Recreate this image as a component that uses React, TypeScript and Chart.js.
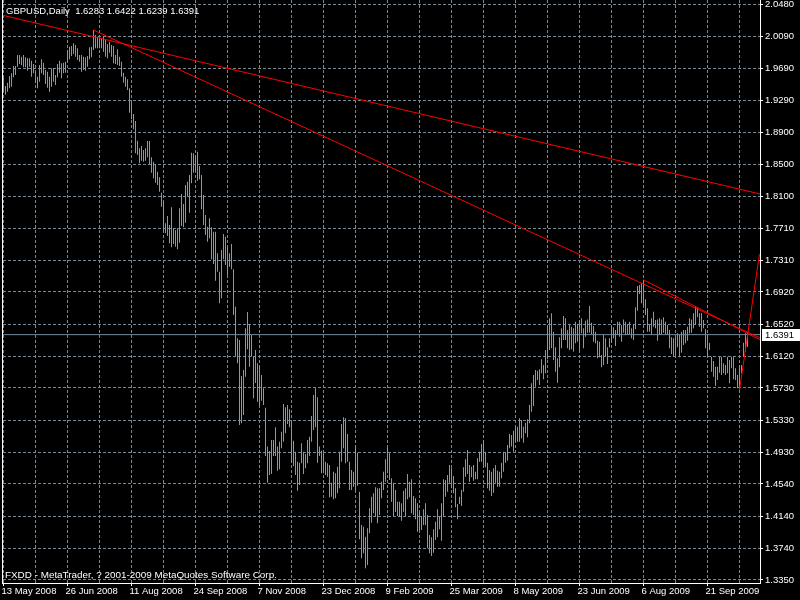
import React, { useEffect, useRef } from 'react';
import { Chart, registerables } from 'chart.js';

Chart.register(...registerables);

// Daily GBPUSD bars, index 0 = 13 May 2008 (weekdays)
const highs = [
  1.9580, 1.9473, 1.9514, 1.9596, 1.9630, 1.9720, 1.9720, 1.9856, 1.9856, 1.9835,
  1.9856, 1.9828, 1.9815, 1.9815, 1.9786, 1.9745, 1.9649, 1.9588, 1.9732, 1.9803,
  1.9761, 1.9670, 1.9649, 1.9588, 1.9691, 1.9691, 1.9609, 1.9745, 1.9786, 1.9753,
  1.9761, 1.9773, 1.9918, 1.9959, 1.9968, 2.0001, 1.9980, 1.9939, 1.9856, 1.9856,
  1.9835, 1.9828, 1.9844, 1.9952, 1.9959, 2.0166, 2.0104, 2.0083, 2.0063, 2.0063,
  2.0083, 2.0042, 1.9993, 2.0021, 1.9980, 1.9968, 1.9856, 1.9927, 1.9835, 1.9773,
  1.9637, 1.9588, 1.9555, 1.9444, 1.9265, 1.9125, 1.9039, 1.8794, 1.8700, 1.8729,
  1.8679, 1.8700, 1.8791, 1.8791, 1.8589, 1.8534, 1.8505, 1.8410, 1.8340, 1.8150,
  1.8051, 1.7771, 1.7861, 1.7750, 1.7969, 1.7709, 1.7688, 1.7709, 1.7957, 1.8134,
  1.8010, 1.8245, 1.8286, 1.8369, 1.8646, 1.8638, 1.8605, 1.8658, 1.8481, 1.8369,
  1.8121, 1.7873, 1.7729, 1.7833, 1.7721, 1.7667, 1.7667, 1.7399, 1.7171, 1.7440,
  1.7638, 1.7605, 1.7481, 1.7399, 1.7514, 1.7201, 1.6737, 1.6345, 1.6324, 1.5878,
  1.5952, 1.6469, 1.6671, 1.6522, 1.6386, 1.6117, 1.6200, 1.6036, 1.6002, 1.5890,
  1.5726, 1.5485, 1.5003, 1.4949, 1.5085, 1.5085, 1.5243, 1.5003, 1.5064, 1.5188,
  1.5531, 1.5490, 1.5519, 1.5466, 1.5333, 1.5076, 1.4940, 1.4816, 1.4804, 1.5044,
  1.4940, 1.4911, 1.5085, 1.5126, 1.5383, 1.5643, 1.5726, 1.5614, 1.5003, 1.4952,
  1.4928, 1.4816, 1.4796, 1.4775, 1.4556, 1.4692, 1.4672, 1.4754, 1.4940, 1.5283,
  1.5366, 1.5354, 1.5160, 1.4816, 1.4713, 1.4692, 1.5003, 1.4928, 1.4444, 1.4032,
  1.4011, 1.3887, 1.3991, 1.4238, 1.4382, 1.4424, 1.4499, 1.4486, 1.4486, 1.4568,
  1.4692, 1.4846, 1.4995, 1.4920, 1.4610, 1.4556, 1.4465, 1.4320, 1.4320, 1.4300,
  1.4457, 1.4486, 1.4664, 1.4568, 1.4598, 1.4391, 1.4362, 1.4300, 1.4196, 1.4143,
  1.4226, 1.4300, 1.4155, 1.3908, 1.3879, 1.3978, 1.4073, 1.4226, 1.4134, 1.4300,
  1.4598, 1.4589, 1.4651, 1.4775, 1.4734, 1.4639, 1.4486, 1.4292, 1.4382, 1.4465,
  1.4747, 1.4846, 1.4961, 1.4775, 1.4754, 1.4775, 1.4692, 1.4858, 1.4940, 1.5035,
  1.5085, 1.4940, 1.4804, 1.4713, 1.4692, 1.4734, 1.4775, 1.4704, 1.4692, 1.4804,
  1.4940, 1.4928, 1.5023, 1.5160, 1.5147, 1.5200, 1.5243, 1.5250, 1.5354, 1.5333,
  1.5250, 1.5300, 1.5342, 1.5519, 1.5788, 1.5890, 1.5952, 1.5944, 1.5961, 1.6085,
  1.6014, 1.6200, 1.6498, 1.6593, 1.6655, 1.6427, 1.6234, 1.6098, 1.6358, 1.6469,
  1.6622, 1.6593, 1.6448, 1.6510, 1.6489, 1.6469, 1.6551, 1.6522, 1.6572, 1.6593,
  1.6469, 1.6563, 1.6580, 1.6746, 1.6539, 1.6498, 1.6427, 1.6316, 1.6303, 1.6138,
  1.6386, 1.6345, 1.6234, 1.6345, 1.6498, 1.6481, 1.6448, 1.6551, 1.6551, 1.6510,
  1.6580, 1.6551, 1.6522, 1.6551, 1.6469, 1.6522, 1.6730, 1.6994, 1.7006, 1.7027,
  1.7047, 1.6829, 1.6717, 1.6522, 1.6593, 1.6675, 1.6572, 1.6580, 1.6593, 1.6580,
  1.6605, 1.6551, 1.6510, 1.6448, 1.6358, 1.6345, 1.6365, 1.6407, 1.6386, 1.6427,
  1.6448, 1.6448, 1.6489, 1.6593, 1.6580, 1.6655, 1.6737, 1.6717, 1.6655, 1.6655,
  1.6572, 1.6457, 1.6399, 1.6291, 1.6117, 1.6064, 1.5993, 1.5993, 1.6117, 1.6117,
  1.6036, 1.6014, 1.6117, 1.6076, 1.6117, 1.6110, 1.5973, 1.5890, 1.6014, 1.6014,
  1.6291, 1.6407, 1.6422,
];

const lows = [
  1.9414, 1.9365, 1.9402, 1.9444, 1.9464, 1.9580, 1.9609, 1.9711, 1.9745, 1.9732,
  1.9704, 1.9704, 1.9662, 1.9711, 1.9588, 1.9630, 1.9505, 1.9444, 1.9526, 1.9630,
  1.9609, 1.9497, 1.9452, 1.9402, 1.9464, 1.9526, 1.9485, 1.9580, 1.9637, 1.9568,
  1.9630, 1.9637, 1.9761, 1.9803, 1.9844, 1.9869, 1.9835, 1.9794, 1.9773, 1.9649,
  1.9670, 1.9662, 1.9711, 1.9803, 1.9828, 1.9918, 1.9939, 1.9939, 1.9939, 1.9939,
  1.9897, 1.9835, 1.9815, 1.9885, 1.9835, 1.9753, 1.9745, 1.9732, 1.9720, 1.9588,
  1.9513, 1.9464, 1.9423, 1.9141, 1.9060, 1.8936, 1.8638, 1.8617, 1.8514, 1.8546,
  1.8534, 1.8546, 1.8589, 1.8505, 1.8398, 1.8328, 1.8274, 1.8245, 1.8162, 1.7976,
  1.7667, 1.7647, 1.7613, 1.7523, 1.7473, 1.7514, 1.7481, 1.7448, 1.7530, 1.7737,
  1.7721, 1.7778, 1.8100, 1.7902, 1.8266, 1.8398, 1.8423, 1.8298, 1.8316, 1.7944,
  1.7750, 1.7626, 1.7543, 1.7585, 1.7325, 1.7266, 1.7059, 1.7171, 1.6779, 1.6841,
  1.7325, 1.7254, 1.7130, 1.7233, 1.7201, 1.6634, 1.6126, 1.6036, 1.5271, 1.5292,
  1.5395, 1.5870, 1.6209, 1.5993, 1.6117, 1.5602, 1.5791, 1.5560, 1.5513, 1.5572,
  1.5519, 1.4887, 1.4556, 1.4651, 1.4664, 1.4887, 1.4887, 1.4704, 1.4722, 1.4982,
  1.5064, 1.5168, 1.5283, 1.5243, 1.4804, 1.4763, 1.4651, 1.4457, 1.4527, 1.4796,
  1.4664, 1.4734, 1.4796, 1.4887, 1.5064, 1.5209, 1.5243, 1.4804, 1.4887, 1.4672,
  1.4672, 1.4651, 1.4630, 1.4375, 1.4382, 1.4350, 1.4363, 1.4424, 1.4486, 1.4816,
  1.4982, 1.4796, 1.4816, 1.4465, 1.4465, 1.4506, 1.4457, 1.4519, 1.3854, 1.3619,
  1.3681, 1.3495, 1.3536, 1.3929, 1.4060, 1.4176, 1.4143, 1.4053, 1.4155, 1.4362,
  1.4465, 1.4568, 1.4672, 1.4589, 1.4320, 1.4143, 1.4192, 1.4143, 1.4134, 1.4085,
  1.4196, 1.4143, 1.4350, 1.4375, 1.4176, 1.4155, 1.4102, 1.3948, 1.3970, 1.3970,
  1.4032, 1.4032, 1.3743, 1.3681, 1.3648, 1.3688, 1.3846, 1.3879, 1.3978, 1.3837,
  1.4143, 1.4382, 1.4444, 1.4556, 1.4486, 1.4424, 1.4251, 1.4102, 1.4292, 1.4267,
  1.4444, 1.4630, 1.4664, 1.4568, 1.4622, 1.4580, 1.4598, 1.4598, 1.4816, 1.4816,
  1.4754, 1.4747, 1.4486, 1.4457, 1.4391, 1.4432, 1.4556, 1.4506, 1.4506, 1.4610,
  1.4692, 1.4804, 1.4829, 1.4982, 1.5003, 1.4940, 1.5064, 1.5064, 1.5064, 1.5106,
  1.5052, 1.5168, 1.5118, 1.5292, 1.5436, 1.5507, 1.5746, 1.5829, 1.5767, 1.5911,
  1.5837, 1.5911, 1.6085, 1.6200, 1.6221, 1.6076, 1.5932, 1.5795, 1.5986, 1.6221,
  1.6324, 1.6324, 1.6221, 1.6200, 1.6209, 1.6179, 1.6283, 1.6303, 1.6179, 1.6407,
  1.6221, 1.6365, 1.6415, 1.6415, 1.6399, 1.6303, 1.6283, 1.6098, 1.6110, 1.5986,
  1.6014, 1.6126, 1.6027, 1.6234, 1.6291, 1.6345, 1.6250, 1.6386, 1.6365, 1.6303,
  1.6415, 1.6386, 1.6386, 1.6399, 1.6345, 1.6324, 1.6457, 1.6687, 1.6895, 1.6779,
  1.6746, 1.6634, 1.6427, 1.6427, 1.6386, 1.6489, 1.6469, 1.6316, 1.6386, 1.6399,
  1.6415, 1.6399, 1.6386, 1.6221, 1.6151, 1.6117, 1.6138, 1.6234, 1.6110, 1.6167,
  1.6262, 1.6283, 1.6316, 1.6407, 1.6415, 1.6469, 1.6510, 1.6605, 1.6489, 1.6427,
  1.6469, 1.6221, 1.6126, 1.6200, 1.5932, 1.5870, 1.5754, 1.5829, 1.5919, 1.5890,
  1.5911, 1.5890, 1.5911, 1.5788, 1.5973, 1.5837, 1.5829, 1.5726, 1.5707, 1.5911,
  1.6117, 1.6179, 1.6239,
];

const xTickLabels = [
  '13 May 2008', '26 Jun 2008', '11 Aug 2008', '24 Sep 2008', '7 Nov 2008', '23 Dec 2008',
  '9 Feb 2009', '25 Mar 2009', '8 May 2009', '23 Jun 2009', '6 Aug 2009', '21 Sep 2009',
];
const xLabelStep = 32;
const xGridStep = 16;

const yTickValues = [
  2.048, 2.009, 1.969, 1.929, 1.89, 1.85, 1.81, 1.771, 1.731, 1.692,
  1.652, 1.612, 1.573, 1.533, 1.493, 1.454, 1.414, 1.374, 1.335,
];

const headerText = 'GBPUSD,Daily  1.6283 1.6422 1.6239 1.6391';
const footerText = 'FXDD - MetaTrader, ? 2001-2009 MetaQuotes Software Corp.';
const bidPrice = 1.6391;

// Trend lines (bar index, price)
const trendTop = [{ x: -0.25, y: 2.0348 }, { x: 378.25, y: 1.8134 }];
const trendMain = [{ x: 45, y: 2.0166 }, { x: 378.25, y: 1.635 }];
const trendAug = [{ x: 320, y: 1.707 }, { x: 378.25, y: 1.6327 }];
const trendRebound = [{ x: 368, y: 1.5705 }, { x: 378, y: 1.739 }];

const X_MIN = -0.25;
const X_MAX = 378.25;
const Y_MIN = 1.33128;
const Y_MAX = 2.05382;

const FAMILY = '"Liberation Sans", Arial, sans-serif';
const GRID = '#778899';

export default function App() {
  const ref = useRef<HTMLCanvasElement>(null);

  useEffect(() => {
    const canvas = ref.current;
    if (!canvas) return;

    const gridTicks: number[] = [];
    for (let v = 0; v <= X_MAX; v += xGridStep) gridTicks.push(v);

    const overlay = {
      id: 'mt4overlay',
      afterDraw(chart: any) {
        const { ctx, chartArea, scales } = chart;
        ctx.save();
        ctx.strokeStyle = '#ffffff';
        ctx.lineWidth = 1;
        ctx.setLineDash([]);
        ctx.beginPath();
        ctx.moveTo(chartArea.left - 0.5, 0);
        ctx.lineTo(chartArea.left - 0.5, chartArea.bottom + 1);
        ctx.stroke();

        ctx.fillStyle = '#ffffff';
        ctx.textAlign = 'left';
        ctx.textBaseline = 'alphabetic';
        ctx.font = `9.5px ${FAMILY}`;
        ctx.fillText(headerText, 6, 14);
        ctx.font = `9.9px ${FAMILY}`;
        ctx.fillText(footerText, 5, 578);

        const y = Math.round(scales.y.getPixelForValue(bidPrice));
        ctx.fillRect(762, y - 6, 38, 12);
        ctx.fillStyle = '#000000';
        ctx.textBaseline = 'middle';
        ctx.font = `9.5px ${FAMILY}`;
        ctx.fillText(bidPrice.toFixed(4), 765, y);
        ctx.restore();
      },
    };

    const lineDs = (data: any[], color: string, order: number) => ({
      type: 'line' as const,
      data,
      borderColor: color,
      borderWidth: 1,
      pointRadius: 0,
      pointHoverRadius: 0,
      fill: false,
      tension: 0,
      order,
    });

    const chart = new Chart(canvas, {
      type: 'bar',
      data: {
        datasets: [
          lineDs(trendTop, '#ff0000', 0),
          lineDs(trendMain, '#ff0000', 0),
          lineDs(trendAug, '#ff0000', 0),
          lineDs(trendRebound, '#ff0000', 0),
          lineDs([{ x: X_MIN, y: bidPrice }, { x: X_MAX, y: bidPrice }], GRID, 1),
          {
            type: 'bar' as const,
            data: highs.map((h, i) => ({ x: i, y: [lows[i], h] })),
            backgroundColor: '#00ff00',
            borderWidth: 0,
            barThickness: 1,
            inflateAmount: 0,
            order: 2,
          } as any,
        ],
      },
      options: {
        responsive: false,
        animation: false,
        events: [],
        layout: { padding: { left: 3, top: 0, right: 0, bottom: 0 } },
        plugins: {
          legend: { display: false },
          tooltip: { enabled: false },
          title: { display: false },
        },
        scales: {
          x: {
            type: 'linear',
            min: X_MIN,
            max: X_MAX,
            offset: false,
            afterBuildTicks: (s: any) => {
              s.ticks = gridTicks.map((v) => ({ value: v }));
            },
            afterFit: (s: any) => {
              s.height = 17;
              s.paddingLeft = 0;
              s.paddingRight = 0;
            },
            grid: {
              color: GRID,
              lineWidth: 1,
              offset: false,
              tickLength: 3,
              tickColor: (c: any) => (c.index % 2 === 0 ? '#ffffff' : 'rgba(0,0,0,0)'),
            },
            border: { display: true, color: '#ffffff', width: 1, dash: [3, 2] },
            ticks: {
              autoSkip: false,
              maxRotation: 0,
              minRotation: 0,
              align: 'start',
              padding: 0,
              labelOffset: -2,
              color: '#ffffff',
              font: { family: FAMILY, size: 9.5 },
              callback: (v: any) => {
                const n = Number(v);
                return n % xLabelStep === 0 ? xTickLabels[n / xLabelStep] ?? '' : '';
              },
            },
          } as any,
          y: {
            type: 'linear',
            position: 'right',
            min: Y_MIN,
            max: Y_MAX,
            afterBuildTicks: (s: any) => {
              s.ticks = yTickValues.map((v) => ({ value: v }));
            },
            afterFit: (s: any) => {
              s.width = 40;
              s.paddingTop = 0;
              s.paddingBottom = 0;
            },
            grid: { color: GRID, lineWidth: 1, tickLength: 3, tickColor: '#ffffff' },
            border: { display: true, color: '#ffffff', width: 1, dash: [3, 2] },
            ticks: {
              autoSkip: false,
              padding: 2,
              color: '#ffffff',
              font: { family: FAMILY, size: 9.5 },
              callback: (v: any) => Number(v).toFixed(4),
            },
          } as any,
        },
      },
      plugins: [overlay],
    });

    return () => chart.destroy();
  }, []);

  return (
    <div style={{ position: 'fixed', left: 0, top: 0, width: 800, height: 600, background: '#000' }}>
      <canvas ref={ref} width={800} height={600} style={{ display: 'block', background: '#000' }} />
    </div>
  );
}
